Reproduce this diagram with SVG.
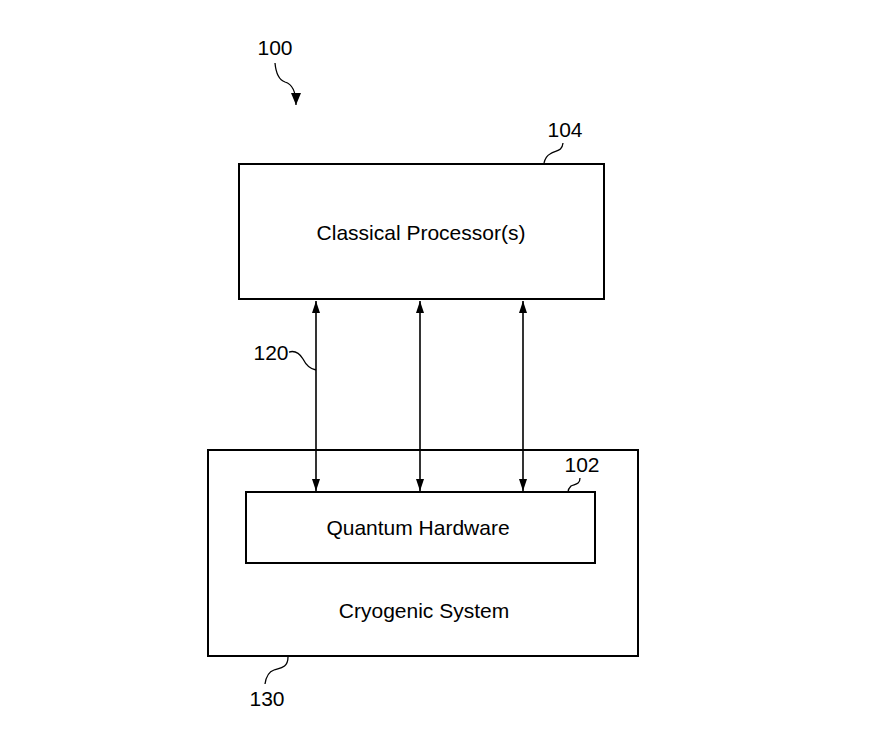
<svg xmlns="http://www.w3.org/2000/svg" width="880" height="748" viewBox="0 0 880 748">
<style>
.box{fill:none;stroke:#000;stroke-width:2}
.t{font-family:"Liberation Sans",Arial,sans-serif;font-size:21px;fill:#000;text-anchor:middle}
.lead{fill:none;stroke:#000;stroke-width:1.3}
.conn{stroke:#000;stroke-width:1.6;fill:none}
</style>
<defs>
<marker id="ah" viewBox="0 0 12 8" refX="12" refY="4" markerWidth="12" markerHeight="8" markerUnits="userSpaceOnUse" orient="auto-start-reverse">
<path d="M0,0 L12,4 L0,8 z" fill="#000"/>
</marker>
<marker id="ah2" viewBox="0 0 12 10" refX="12" refY="5" markerWidth="12" markerHeight="10" markerUnits="userSpaceOnUse" orient="auto">
<path d="M0,0 L12,5 L0,10 z" fill="#000"/>
</marker>
</defs>
<rect width="880" height="748" fill="#fff"/>
<g id="label100">
<text class="t" x="275" y="55">100</text>
<path class="lead" d="M275,63 C276,74 279,80 285,82 C292,84 296,90 296,105" marker-end="url(#ah2)"/>
</g>
<g id="node104">
<rect class="box" x="239" y="164" width="365" height="135"/>
<text class="t" x="421" y="240">Classical Processor(s)</text>
<text class="t" x="565" y="137">104</text>
<path class="lead" d="M563,143 C562,152 556,150 550,154 C546,156 545,159 544,163"/>
</g>
<g id="node130">
<rect class="box" x="208" y="450" width="430" height="206"/>
<text class="t" x="424" y="618">Cryogenic System</text>
<text class="t" x="267" y="706">130</text>
<path class="lead" d="M288,657 C288,668 280,668 274,670 C268,672 266,677 265,684"/>
</g>
<g id="node102">
<rect class="box" x="246" y="492" width="349" height="71"/>
<text class="t" x="418" y="535">Quantum Hardware</text>
<text class="t" x="582" y="472">102</text>
<path class="lead" d="M580,478 C580,485 574,484 571,486 C569,488 568,490 568,492"/>
</g>
<g id="connectors">
<line class="conn" x1="316" y1="301" x2="316" y2="491" marker-start="url(#ah)" marker-end="url(#ah)"/>
<line class="conn" x1="420" y1="301" x2="420" y2="491" marker-start="url(#ah)" marker-end="url(#ah)"/>
<line class="conn" x1="523" y1="301" x2="523" y2="491" marker-start="url(#ah)" marker-end="url(#ah)"/>
<text class="t" x="271" y="360">120</text>
<path class="lead" d="M289,352 C296,350 300,354 303,359 C306,365 310,369 316,370"/>
</g>
</svg>
